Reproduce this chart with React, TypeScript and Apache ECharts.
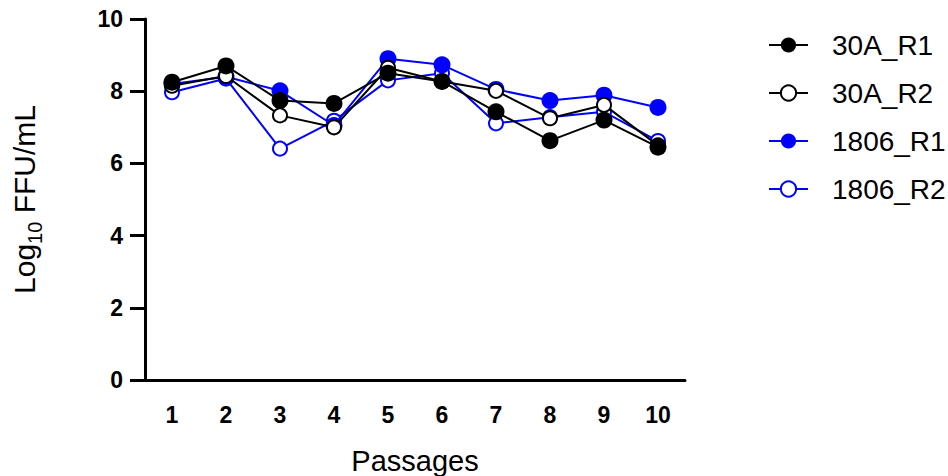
import React, { useEffect, useRef } from "react";
import * as echarts from "echarts";

const passages = ["1", "2", "3", "4", "5", "6", "7", "8", "9", "10"];
const r30A_R1 = [8.25, 8.7, 7.74, 7.66, 8.5, 8.27, 7.43, 6.63, 7.2, 6.45];
const r30A_R2 = [8.15, 8.42, 7.33, 7.0, 8.65, 8.27, 8.01, 7.25, 7.62, 6.5];
const r1806_R1 = [8.2, 8.4, 8.01, 7.05, 8.9, 8.73, 8.05, 7.74, 7.89, 7.55];
const r1806_R2 = [7.97, 8.35, 6.41, 7.18, 8.3, 8.5, 7.11, 7.28, 7.43, 6.62];
const legendOrder = ["30A_R1", "30A_R2", "1806_R1", "1806_R2"];

const FONT = "Liberation Sans, Arial, sans-serif";

function mk(name: string, data: number[], color: string, filled: boolean, z: number) {
  return {
    name,
    type: "line",
    data,
    z,
    symbol: filled ? "circle" : "emptyCircle",
    symbolSize: filled ? 17 : 14,
    showSymbol: true,
    lineStyle: { color, width: 2 },
    itemStyle: filled
      ? { color, borderWidth: 0 }
      : { color, borderColor: color, borderWidth: 3 },
    emphasis: { disabled: true },
  };
}

export default function App() {
  const ref = useRef<HTMLDivElement>(null);
  useEffect(() => {
    if (!ref.current) return;
    const chart = echarts.init(ref.current, null, { renderer: "svg" });
    chart.setOption({
      animation: false,
      backgroundColor: "#fff",
      textStyle: { fontFamily: FONT },
      grid: { left: 145, right: 263, top: 19, bottom: 96, containLabel: false, outerBoundsMode: "none" },
      legend: {
        data: legendOrder,
        orient: "vertical",
        left: 768,
        top: 30,
        padding: 0,
        itemWidth: 39,
        itemHeight: 19,
        itemGap: 18,
        textStyle: {
          fontFamily: FONT,
          fontSize: 28,
          lineHeight: 30,
          color: "#000",
          padding: [0, 0, 0, 19],
        },
      },
      xAxis: {
        type: "category",
        data: passages,
        boundaryGap: true,
        name: "Passages",
        nameLocation: "middle",
        nameGap: 66,
        nameTextStyle: { fontFamily: FONT, fontSize: 29, color: "#000" },
        axisLine: { lineStyle: { color: "#000", width: 3 } },
        axisTick: { alignWithLabel: true, length: 15, lineStyle: { color: "#000", width: 3 } },
        axisLabel: { fontFamily: FONT, fontSize: 23, fontWeight: "bold", color: "#000", margin: 23 },
        splitLine: { show: false },
      },
      yAxis: {
        type: "value",
        min: 0,
        max: 10,
        interval: 2,
        name: "{a|Log}{b|10}{a| FFU/mL}",
        nameLocation: "middle",
        nameRotate: 90,
        nameGap: 106,
        nameTextStyle: {
          fontFamily: FONT,
          color: "#000",
          rich: {
            a: { fontFamily: FONT, fontSize: 30, color: "#000", lineHeight: 32, verticalAlign: "bottom" },
            b: { fontFamily: FONT, fontSize: 20, color: "#000", lineHeight: 32, verticalAlign: "bottom", padding: [0, 0, -6, 0] },
          },
        },
        axisLine: { show: true, lineStyle: { color: "#000", width: 3 } },
        axisTick: { show: true, length: 15, lineStyle: { color: "#000", width: 3 } },
        axisLabel: { fontFamily: FONT, fontSize: 23, fontWeight: "bold", color: "#000", margin: 22 },
        splitLine: { show: false },
      },
      series: [
        mk("1806_R2", r1806_R2, "#0000ff", false, 2),
        mk("1806_R1", r1806_R1, "#0000ff", true, 3),
        mk("30A_R2", r30A_R2, "#000000", false, 4),
        mk("30A_R1", r30A_R1, "#000000", true, 5),
      ],
    });
    return () => chart.dispose();
  }, []);
  return <div ref={ref} style={{ width: 948, height: 476, position: "absolute", left: 0, top: 0 }} />;
}
